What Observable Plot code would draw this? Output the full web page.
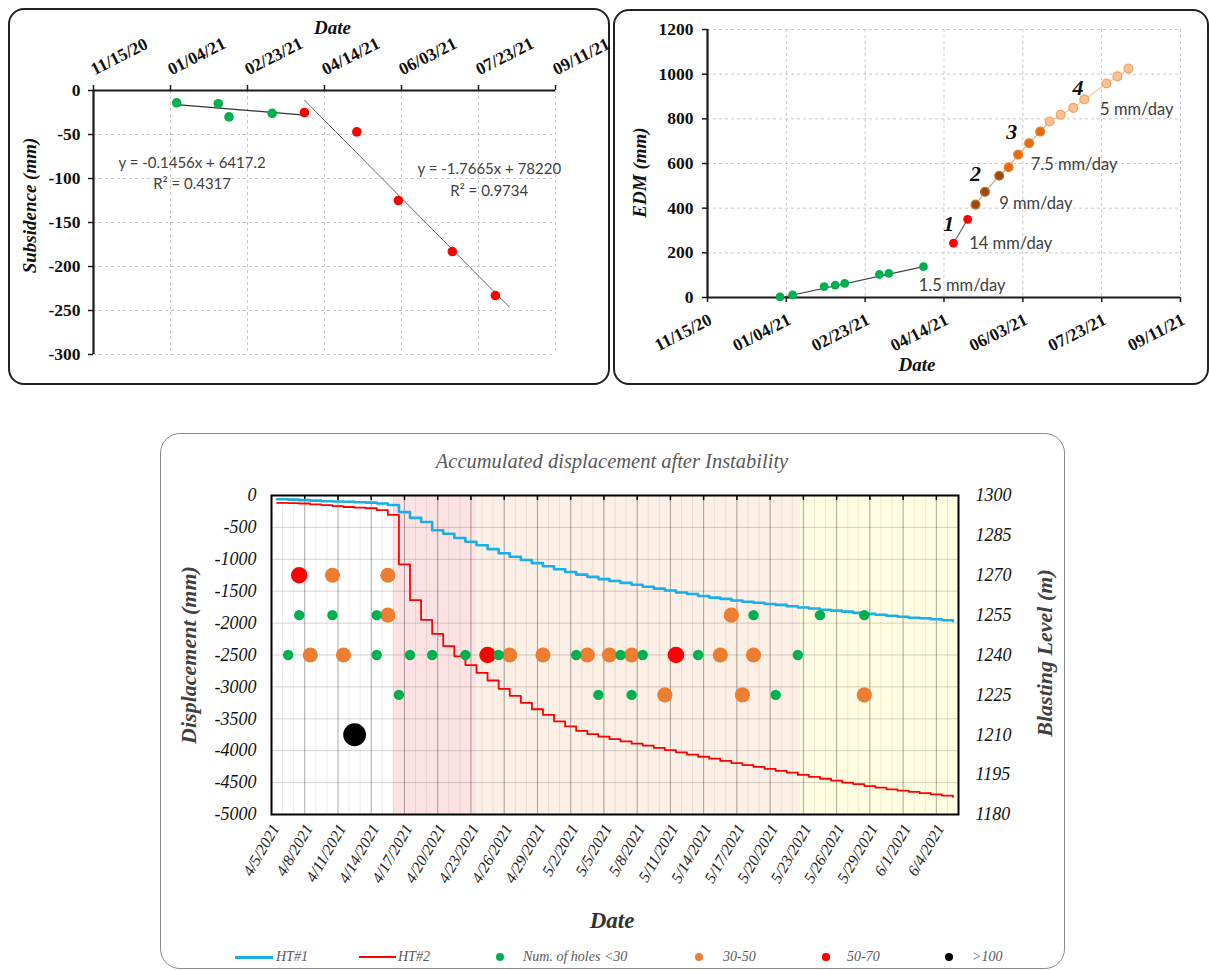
<!DOCTYPE html>
<html><head><meta charset="utf-8">
<script src="https://cdn.jsdelivr.net/npm/d3@7"></script>
<script src="https://cdn.jsdelivr.net/npm/@observablehq/plot@0.6"></script>
<style>
html,body{margin:0;padding:0;background:#fff;overflow:hidden;}
#root{position:relative;width:1209px;height:970px;}
.abs{position:absolute;box-sizing:border-box;}
.lg{position:absolute;font-family:"Liberation Serif",serif;font-style:italic;font-size:14px;line-height:16px;color:#595959;white-space:nowrap;}
</style></head><body><div id="root"></div>
<script>
// ================= DATA =================
// Panel A : subsidence
const subsDates  = ["2021-01-08","2021-02-04","2021-02-11","2021-03-11","2021-04-01","2021-05-05","2021-06-01","2021-07-06","2021-08-03"];
const subsValues = [-14,-15,-30,-26,-25,-47,-125,-183,-233];
const subsPhase  = ["before","before","before","before","after","after","after","after","after"];
const subsTrendADates = ["2021-01-08","2021-04-01"];
const subsTrendAValues = [-16,-28];
const subsTrendBDates = ["2021-04-01","2021-08-12"];
const subsTrendBValues = [-11,-246];
const subsEqText   = ["y = -0.1456x + 6417.2","R\u00b2 = 0.4317","y = -1.7665x + 78220","R\u00b2 = 0.9734"];
const subsEqDates  = ["2021-01-18","2021-01-18","2021-07-30","2021-07-30"];
const subsEqValues = [-83,-107,-89,-114];
const dateTickLabels = ["11/15/20","01/04/21","02/23/21","04/14/21","06/03/21","07/23/21","09/11/21"];
const subsYTicks = [0,-50,-100,-150,-200,-250,-300];

// Panel B : EDM
const edmDates  = ["2020-12-31","2021-01-08","2021-01-28","2021-02-04","2021-02-10","2021-03-04","2021-03-10","2021-04-01",
                   "2021-04-20","2021-04-29",
                   "2021-05-04","2021-05-10","2021-05-19",
                   "2021-05-25","2021-05-31","2021-06-07","2021-06-14",
                   "2021-06-20","2021-06-27","2021-07-05","2021-07-12","2021-07-26","2021-08-02","2021-08-09"];
const edmValues = [3,12,49,55,63,103,108,138, 243,350, 416,473,545, 583,640,691,743, 788,818,849,887,958,990,1025];
const edmPhase  = ["0","0","0","0","0","0","0","0","1","1","2","2","2","3","3","3","3","4","4","4","4","4","4","4"];
const edmTrendDates = ["2021-01-01","2021-04-01"];
const edmTrendValues = [0,138];
const edmYTicks = [0,200,400,600,800,1000,1200];
const phaseNames  = ["1","2","3","4"];
const phaseDates  = ["2021-04-17","2021-05-04","2021-05-27","2021-07-08"];
const phaseValues = [331,554,740,939];
const rateText   = ["1.5 mm/day","14 mm/day","9 mm/day","7.5 mm/day","5 mm/day"];
const rateDates  = ["2021-03-29","2021-04-30","2021-05-19","2021-06-08","2021-07-22"];
const rateValues = [54,243,422,594,843];

// Panel C : accumulated displacement after instability
const dispStart = "2021-04-05";
const ht1 = [-58,-65,-73,-80,-89,-94,-99,-105,-112,-125,-150,-260,-350,-415,-545,-600,-665,-725,-780,-840,-905,-960,-1010,-1060,-1110,-1155,-1200,-1240,-1275,-1310,-1340,-1370,-1400,-1430,-1460,-1490,-1520,-1545,-1575,-1600,-1620,-1645,-1665,-1680,-1700,-1715,-1735,-1755,-1770,-1790,-1805,-1820,-1840,-1855,-1870,-1885,-1900,-1915,-1925,-1940,-1955,-1970];
const ht2 = [-115,-118,-125,-140,-152,-165,-180,-190,-200,-230,-305,-1080,-1640,-1950,-2170,-2360,-2520,-2660,-2780,-2900,-3030,-3140,-3250,-3350,-3440,-3540,-3620,-3690,-3740,-3780,-3820,-3855,-3890,-3920,-3955,-3990,-4025,-4060,-4095,-4125,-4160,-4195,-4225,-4255,-4285,-4315,-4345,-4380,-4410,-4440,-4470,-4500,-4525,-4555,-4580,-4605,-4625,-4645,-4665,-4685,-4705,-4725];
const blastDates  = ["2021-04-06","2021-04-07","2021-04-10","2021-04-14","2021-04-14","2021-04-16","2021-04-17","2021-04-19","2021-04-22","2021-04-25","2021-05-02","2021-05-04","2021-05-06","2021-05-07","2021-05-08","2021-05-13","2021-05-18","2021-05-20","2021-05-22","2021-05-24","2021-05-28",
                     "2021-04-10","2021-04-15","2021-04-15","2021-04-08","2021-04-11","2021-04-26","2021-04-29","2021-05-03","2021-05-05","2021-05-07","2021-05-10","2021-05-15","2021-05-16","2021-05-17","2021-05-18","2021-05-28",
                     "2021-04-07","2021-04-24","2021-05-11",
                     "2021-04-12"];
const blastLevels = [1240,1255,1255,1255,1240,1225,1240,1240,1240,1240,1240,1225,1240,1225,1240,1240,1255,1225,1240,1255,1255,
                     1270,1270,1255,1240,1240,1240,1240,1240,1240,1240,1225,1240,1255,1225,1240,1225,
                     1270,1240,1240,
                     1210];
const blastClass  = ["<30","<30","<30","<30","<30","<30","<30","<30","<30","<30","<30","<30","<30","<30","<30","<30","<30","<30","<30","<30","<30",
                     "30-50","30-50","30-50","30-50","30-50","30-50","30-50","30-50","30-50","30-50","30-50","30-50","30-50","30-50","30-50","30-50",
                     "50-70","50-70","50-70",
                     ">100"];
const bandStarts = ["2021-04-16T00:00Z","2021-04-23T13:00Z","2021-05-22T18:00Z"];
const bandEnds   = ["2021-04-23T13:00Z","2021-05-22T18:00Z","2021-06-06T00:00Z"];
const bandColors = ["#FDE2E3","#FBEFE6","#FEFDE1"];
const dispYTicks  = [0,-500,-1000,-1500,-2000,-2500,-3000,-3500,-4000,-4500,-5000];
const levelTicks  = [1300,1285,1270,1255,1240,1225,1210,1195,1180];
const dispXLabels = ["4/5/2021","4/8/2021","4/11/2021","4/14/2021","4/17/2021","4/20/2021","4/23/2021","4/26/2021","4/29/2021","5/2/2021","5/5/2021","5/8/2021","5/11/2021","5/14/2021","5/17/2021","5/20/2021","5/23/2021","5/26/2021","5/29/2021","6/1/2021","6/4/2021"];

// ================= HELPERS =================
const root = document.getElementById("root");
const iso = s => new Date(s.length === 10 ? s + "T00:00:00Z" : s);
const mdyShort = s => { const [m,d,y] = s.split("/").map(Number); return new Date(Date.UTC(2000+y, m-1, d)); };
const mdyLong  = s => { const [m,d,y] = s.split("/").map(Number); return new Date(Date.UTC(y, m-1, d)); };
const noon = s => new Date(s + "T12:00:00Z");
function put(el, left, top){ el.style.position="absolute"; el.style.left=left+"px"; el.style.top=top+"px"; root.appendChild(el); return el; }
function box(left, top, w, h, border, radius){ const d=document.createElement("div"); d.className="abs"; Object.assign(d.style,{left:left+"px",top:top+"px",width:w+"px",height:h+"px",border,borderRadius:radius+"px"}); root.appendChild(d); }
const SERIF = "Liberation Serif";
const SANS = "Lato";

box(8, 8, 602, 377, "2px solid #222", 16);
box(613, 9, 596, 376, "2px solid #222", 16);
box(160, 433, 905, 536, "1.5px solid #8a8a8a", 20);

// ================= PANEL A =================
{
  const xt = dateTickLabels.map(mdyShort);
  const pts = subsDates.map((d,i)=>({date: iso(d), value: subsValues[i], phase: subsPhase[i]}));
  const trA = subsTrendADates.map((d,i)=>({date: iso(d), value: subsTrendAValues[i]}));
  const trB = subsTrendBDates.map((d,i)=>({date: iso(d), value: subsTrendBValues[i]}));
  const eq  = subsEqText.map((t,i)=>({t, date: iso(subsEqDates[i]), value: subsEqValues[i]}));
  const svg = Plot.plot({
    width: 610, height: 390, marginLeft: 93, marginRight: 55, marginTop: 90, marginBottom: 36,
    x: {type: "utc", domain: [xt[0], xt[xt.length-1]], axis: null},
    y: {domain: [-300, 0], axis: null},
    style: {fontFamily: SERIF, background: "transparent", overflow: "visible"},
    marks: [
      Plot.ruleX(xt.slice(1), {stroke: "#c8c8c8", strokeDasharray: "3,3"}),
      Plot.ruleY(subsYTicks.filter(v => v < 0), {stroke: "#c8c8c8", strokeDasharray: "3,3"}),
      Plot.ruleY([0], {stroke: "#1a1a1a", strokeWidth: 2.2}),
      Plot.ruleX([xt[0]], {stroke: "#1a1a1a", strokeWidth: 2.2}),
      Plot.ruleX(xt, {x: d => d, y1: 0, y2: 0, insetTop: -5, stroke: "#1a1a1a", strokeWidth: 1.5}),
      Plot.ruleY(subsYTicks, {y: d => d, x1: xt[0], x2: xt[0], insetLeft: -5, stroke: "#1a1a1a", strokeWidth: 1.5}),
      Plot.text(xt, {x: d => d, y: 0, text: (d,i) => dateTickLabels[i], rotate: -27, textAnchor: "start", lineAnchor: "bottom", dx: 1, dy: -15, fontSize: 17.5, fontWeight: "bold", fill: "#111"}),
      Plot.text(subsYTicks, {y: d => d, frameAnchor: "left", dx: -13, textAnchor: "end", text: d => String(d), fontSize: 17.5, fontWeight: "bold", fill: "#111"}),
      Plot.text(["Date"], {frameAnchor: "top", dx: 8, dy: -63, lineAnchor: "middle", textAnchor: "middle", text: d => d, fontSize: 19, fontWeight: "bold", fontStyle: "italic", fill: "#111"}),
      Plot.text(["Subsidence (mm)"], {frameAnchor: "left", dx: -64, dy: -17, rotate: -90, textAnchor: "middle", lineAnchor: "middle", text: d => d, fontSize: 19, fontWeight: "bold", fontStyle: "italic", fill: "#111"}),
      Plot.line(trA, {x: "date", y: "value", stroke: "#333", strokeWidth: 1.3}),
      Plot.line(trB, {x: "date", y: "value", stroke: "#555", strokeWidth: 0.9}),
      Plot.dot(pts, {x: "date", y: "value", r: 4.8, fill: d => d.phase === "before" ? "#00B050" : "#FF0000", stroke: "none"}),
      Plot.text(eq, {x: "date", y: "value", text: "t", fontFamily: SANS, fontSize: 15, fill: "#404040"})
    ]
  });
  put(svg, 0, 0);
}

// ================= PANEL B =================
{
  const xt = dateTickLabels.map(mdyShort);
  const pts = edmDates.map((d,i)=>({date: iso(d), value: edmValues[i], phase: edmPhase[i]}));
  const fillC  = {"0":"#00B050","1":"#FF0000","2":"#9C4A0C","3":"#E36C0A","4":"#FAC294"};
  const strokeC= {"0":"none","1":"none","2":"#B8733C","3":"#E8822E","4":"#F3A264"};
  const lineC  = {"1":"#666","2":"#D0A27A","3":"#F2A56E","4":"#F8C9A6"};
  const segs = [];
  ["1","2","3","4"].forEach(p => {
    const g = pts.filter(d => d.phase === p);
    const nxt = pts.find(d => +d.phase === +p + 1);
    const arr = (p === "2" || p === "3") && nxt ? g.concat([nxt]) : g;
    arr.forEach(d => segs.push({...d, seg: p}));
  });
  const tr = edmTrendDates.map((d,i)=>({date: iso(d), value: edmTrendValues[i]}));
  const svg = Plot.plot({
    width: 599, height: 390, marginLeft: 97, marginRight: 29, marginTop: 29, marginBottom: 93,
    x: {type: "utc", domain: [xt[0], xt[xt.length-1]], axis: null},
    y: {domain: [0, 1200], axis: null},
    style: {fontFamily: SERIF, background: "transparent", overflow: "visible"},
    marks: [
      Plot.ruleX(xt.slice(1), {stroke: "#c8c8c8", strokeDasharray: "3,3"}),
      Plot.ruleY(edmYTicks.filter(v => v > 0), {stroke: "#c8c8c8", strokeDasharray: "3,3"}),
      Plot.ruleY([0], {stroke: "#1a1a1a", strokeWidth: 2.2}),
      Plot.ruleX([xt[0]], {stroke: "#1a1a1a", strokeWidth: 2.2}),
      Plot.ruleX(xt, {x: d => d, y1: 0, y2: 0, insetBottom: -5, stroke: "#1a1a1a", strokeWidth: 1.5}),
      Plot.ruleY(edmYTicks, {y: d => d, x1: xt[0], x2: xt[0], insetLeft: -5, stroke: "#1a1a1a", strokeWidth: 1.5}),
      Plot.text(xt, {x: d => d, y: 0, text: (d,i) => dateTickLabels[i], rotate: -27, textAnchor: "end", lineAnchor: "top", dx: 0, dy: 15, fontSize: 17.5, fontWeight: "bold", fill: "#111"}),
      Plot.text(edmYTicks, {y: d => d, frameAnchor: "left", dx: -14, textAnchor: "end", text: d => String(d), fontSize: 17.5, fontWeight: "bold", fill: "#111"}),
      Plot.text(["Date"], {frameAnchor: "bottom", dx: -27, dy: 67, lineAnchor: "middle", textAnchor: "middle", text: d => d, fontSize: 19, fontWeight: "bold", fontStyle: "italic", fill: "#111"}),
      Plot.text(["EDM (mm)"], {frameAnchor: "left", dx: -68, dy: 9, rotate: -90, textAnchor: "middle", lineAnchor: "middle", text: d => d, fontSize: 19, fontWeight: "bold", fontStyle: "italic", fill: "#111"}),
      Plot.line(tr, {x: "date", y: "value", stroke: "#404040", strokeWidth: 1.2}),
      Plot.line(segs, {x: "date", y: "value", z: "seg", stroke: d => lineC[d.seg], strokeWidth: 1.2}),
      Plot.dot(pts, {x: "date", y: "value", r: 4.4, fill: d => fillC[d.phase], stroke: d => strokeC[d.phase], strokeWidth: 1.3}),
      Plot.text(phaseNames, {x: (d,i) => iso(phaseDates[i]), y: (d,i) => phaseValues[i], text: d => d, fontSize: 22, fontWeight: "bold", fontStyle: "italic", fill: "#111"}),
      Plot.text(rateText, {x: (d,i) => iso(rateDates[i]), y: (d,i) => rateValues[i], text: d => d, textAnchor: "start", fontFamily: SANS, fontSize: 16.5, fill: "#404040"})
    ]
  });
  put(svg, 610, 0);
}

// ================= PANEL C =================
{
  const x0 = iso(dispStart);
  const xEnd = iso(bandEnds[bandEnds.length-1]);
  const dayAt = (i, h) => new Date(x0.getTime() + (i*24 + h)*3600e3);
  const l1 = ht1.map((v,i)=>({date: dayAt(i,12), v}));
  const l2 = ht2.map((v,i)=>({date: dayAt(i,12), v}));
  const lev = v => (v - 1300) / 120 * 5000;           // secondary (right) axis -> left axis units
  const pts = blastDates.map((d,i)=>({date: noon(d), y: lev(blastLevels[i]), cls: blastClass[i]}));
  const colC = {"<30":"#00B050","30-50":"#ED7D31","50-70":"#FF0000",">100":"#000000"};
  const rC   = {"<30":5.2,"30-50":7.6,"50-70":8.3,">100":11.4};
  const bands = bandStarts.map((s,i)=>({x1: iso(s), x2: iso(bandEnds[i]), fill: bandColors[i]}));
  const majors = dispXLabels.map(mdyLong);
  const minors = d3.utcDay.range(x0, xEnd).slice(1);
  const svg = Plot.plot({
    width: 905, height: 500, marginLeft: 111, marginRight: 107, marginTop: 55, marginBottom: 126,
    x: {type: "utc", domain: [x0, xEnd], axis: null},
    y: {domain: [-5000, 0], axis: null},
    r: {type: "identity"},
    style: {fontFamily: SERIF, background: "transparent", overflow: "visible"},
    marks: [
      Plot.rect(bands, {x1: "x1", x2: "x2", y1: -5000, y2: 0, fill: "fill"}),
      Plot.ruleX(minors, {stroke: "#000", strokeOpacity: 0.08}),
      Plot.ruleX(majors.slice(1), {stroke: "#000", strokeOpacity: 0.28}),
      Plot.ruleY(dispYTicks.filter(v => v > -5000 && v < 0), {stroke: "#000", strokeOpacity: 0.17}),
      Plot.ruleX(majors.slice(1), {x: d => d, y1: 0, y2: 0, insetBottom: -5, stroke: "#000", strokeWidth: 1.5}),
      Plot.line(l1, {x: "date", y: "v", curve: "step-after", stroke: "#1AAFE6", strokeWidth: 2.6}),
      Plot.line(l2, {x: "date", y: "v", curve: "step-after", stroke: "#FF0000", strokeWidth: 1.8}),
      Plot.dot(pts, {x: "date", y: "y", r: d => rC[d.cls], fill: d => colC[d.cls], stroke: "none"}),
      Plot.frame({stroke: "#000", strokeWidth: 2}),
      Plot.text(dispYTicks, {y: d => d, frameAnchor: "left", dx: -15, textAnchor: "end", text: d => String(d), fontSize: 18, fontStyle: "italic", fill: "#111"}),
      Plot.text(levelTicks, {y: d => lev(d), frameAnchor: "right", dx: 17, textAnchor: "start", text: d => String(d), fontSize: 18, fontStyle: "italic", fill: "#111"}),
      Plot.text(majors, {x: d => d, y: -5000, text: (d,i) => dispXLabels[i], rotate: -60, textAnchor: "end", lineAnchor: "middle", dx: 4, dy: 11, fontSize: 16, fontStyle: "italic", fill: "#222"}),
      Plot.text(["Accumulated displacement after Instability"], {frameAnchor: "top", dx: -3, dy: -34, lineAnchor: "middle", textAnchor: "middle", text: d => d, fontSize: 20.5, fontStyle: "italic", fill: "#595959"}),
      Plot.text(["Date"], {frameAnchor: "bottom", dx: -3, dy: 106, lineAnchor: "middle", textAnchor: "middle", text: d => d, fontSize: 23, fontWeight: "bold", fontStyle: "italic", fill: "#333"}),
      Plot.text(["Displacement (mm)"], {frameAnchor: "left", dx: -83, dy: 0, rotate: -90, textAnchor: "middle", lineAnchor: "middle", text: d => d, fontSize: 22, fontWeight: "bold", fontStyle: "italic", fill: "#404040"}),
      Plot.text(["Blasting Level (m)"], {frameAnchor: "right", dx: 86, dy: -2, rotate: -90, textAnchor: "middle", lineAnchor: "middle", text: d => d, fontSize: 22, fontWeight: "bold", fontStyle: "italic", fill: "#404040"})
    ]
  });
  put(svg, 160, 440);

  // legend (below the plot)
  const legend = [
    {kind: "line", color: "#1AAFE6", w: 3, x: 235, len: 38, label: "HT#1", tx: 276},
    {kind: "line", color: "#FF0000", w: 2, x: 359, len: 37, label: "HT#2", tx: 398},
    {kind: "dot", color: colC["<30"], r: 4.2, x: 500, label: "Num. of holes <30", tx: 523},
    {kind: "dot", color: colC["30-50"], r: 4.4, x: 699, label: "30-50", tx: 723},
    {kind: "dot", color: colC["50-70"], r: 3.6, x: 826, label: "50-70", tx: 847},
    {kind: "dot", color: colC[">100"], r: 4.2, x: 949, label: ">100", tx: 972}
  ];
  const ly = 957;
  legend.forEach(it => {
    const m = document.createElement("div");
    if (it.kind === "line") {
      Object.assign(m.style, {width: it.len+"px", height: it.w+"px", background: it.color});
      put(m, it.x, ly - it.w/2);
    } else {
      Object.assign(m.style, {width: 2*it.r+"px", height: 2*it.r+"px", background: it.color, borderRadius: "50%"});
      put(m, it.x - it.r, ly - it.r);
    }
    const t = document.createElement("div");
    t.className = "lg"; t.textContent = it.label;
    put(t, it.tx, ly - 8);
  });
}
</script></body></html>
